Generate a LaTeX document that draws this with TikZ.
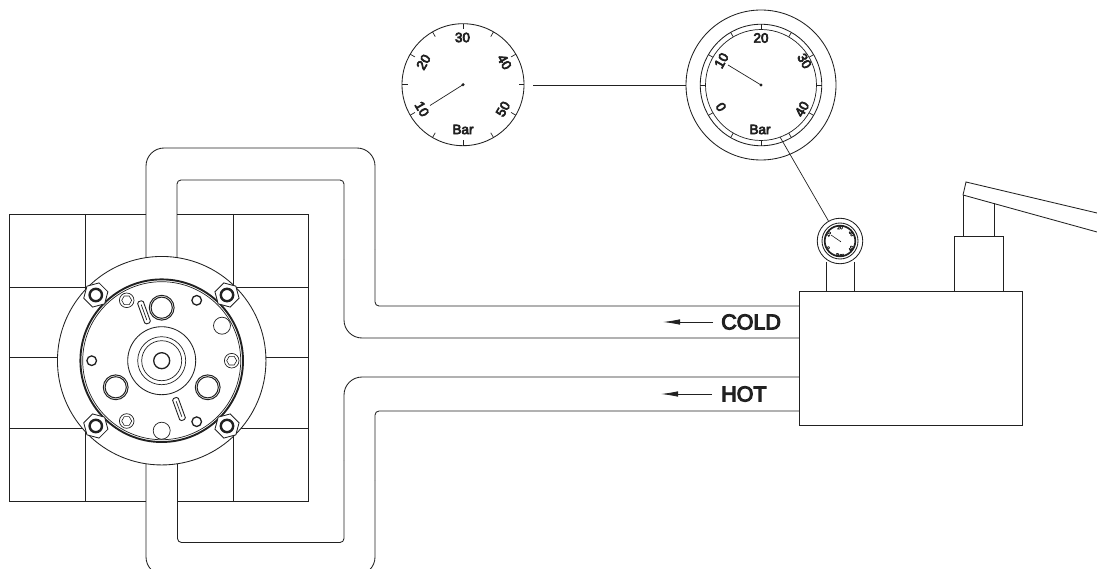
\documentclass[tikz,border=0pt]{standalone}
\usepackage{fontspec}
\setmainfont{Liberation Sans}
\newfontfamily\lblfont[FakeBold=5]{Liberation Sans}
\usetikzlibrary{arrows.meta,shapes.geometric}
\definecolor{ink}{gray}{0.13}
\tikzset{
  ln/.style={draw=ink,line width=0.85pt},
  thin ln/.style={draw=ink,line width=0.7pt},
  heavy/.style={draw=ink,line width=1.9pt},
  face/.style={circle,draw=ink,line width=0.85pt,fill=white,inner sep=0pt},
  lbl/.style={font=\lblfont\fontsize{13.5}{13.5}\selectfont,inner sep=0pt,text=ink},
  tiny lbl/.style={font=\lblfont\fontsize{5}{5}\selectfont,inner sep=0pt,text=ink},
  flow/.style={font=\lblfont\fontsize{21.5}{21.5}\selectfont,inner sep=0pt,anchor=west,text=ink},
  flowarrow/.style={draw=ink,line width=0.8pt,-{Latex[length=17pt,width=5.5pt]}},
  nuthex/.style={regular polygon,regular polygon sides=6,draw=ink,line width=0.85pt,fill=white,minimum size=25pt,inner sep=0pt},
  plughex/.style={regular polygon,regular polygon sides=6,draw=ink,line width=0.6pt,minimum size=10pt,inner sep=0pt},
  slot/.style={rectangle,rounded corners=1.5pt,draw=ink,line width=0.9pt,fill=white,minimum width=6pt,minimum height=23.5pt,inner sep=0pt,rotate=20},
}
\begin{document}
\begin{tikzpicture}[x=1pt,y=-1pt]
\useasboundingbox (0,0) rectangle (1097,569);
\clip (0,0) rectangle (1097,569);
% grid
\draw[ln] (146,214) -- (9,214) -- (9,501) -- (146,501);
\draw[ln] (177,214) -- (308,214) -- (308,501) -- (177,501);
\draw[ln] (85,214) -- (85,501);
\draw[ln] (233,214) -- (233,501);
\draw[ln] (9,287) -- (308,287);
\draw[ln] (9,357.5) -- (308,357.5);
\draw[ln] (9,428) -- (308,428);
% pipes
\draw[ln,rounded corners=18pt] (146,300) -- (146,148) -- (375,148) -- (375,250);
\draw[ln,rounded corners=4pt] (375,250) -- (375,306) -- (799,306);
\draw[ln,rounded corners=4pt] (177,300) -- (177,180) -- (344,180) -- (344,260);
\draw[ln,rounded corners=18pt] (344,260) -- (344,338) -- (799,338);
\draw[ln,rounded corners=18pt] (799,377) -- (344,377) -- (344,460);
\draw[ln,rounded corners=4pt] (344,460) -- (344,542.5) -- (177.5,542.5) -- (177.5,420);
\draw[ln,rounded corners=4pt] (799,411) -- (375,411) -- (375,480);
\draw[ln,rounded corners=18pt] (375,480) -- (375,575) -- (146,575) -- (146,420);
% compressor body
\coordinate (hub) at (161.7,360.7);
\node[face,minimum size=208.5pt] (disk) at (hub) {};
\draw[heavy] (hub) circle[radius=81.3pt];
\draw[thin ln] (hub) circle[radius=79pt];
\node[face,minimum size=68pt] (boss) at (hub) {};
\draw[thin ln] (hub) circle[radius=24pt];
\draw[thin ln] (hub) circle[radius=20pt];
\draw[draw=ink,line width=1.3pt] (hub) circle[radius=8pt];
\foreach \p/\r in {(95.8,295)/15,(227,295)/-15,(95.8,426)/-15,(227,426)/15}{
  \node[nuthex,rotate=\r] at \p {};
  \draw[draw=ink,line width=2.4pt] \p circle[radius=6.2pt];
}
\foreach \p in {(196.7,300.3),(91.7,360.7),(196.7,421.7)}{
  \draw[draw=ink,line width=1.3pt] \p circle[radius=4.8pt];
}
\foreach \p in {(126.7,300.3),(231.7,360.7),(126.7,421)}{
  \draw[thin ln] \p circle[radius=7.3pt];
  \node[plughex] at \p {};
}
\foreach \p in {(161.7,307.7),(115.7,387.3),(207.7,387.3)}{
  \draw[draw=ink,line width=1pt] \p circle[radius=12.4pt];
  \draw[draw=ink,line width=1pt] \p circle[radius=10.6pt];
}
\foreach \p in {(222,325.7),(161.7,430.7)}{
  \draw[thin ln] \p circle[radius=8.5pt];
}
\node[slot] (slotA) at (144,312.3) {};
\node[slot] (slotB) at (179,409) {};
\draw[thin ln] (141.2,304.6) -- (146.8,320);
\draw[thin ln] (176.2,401.3) -- (181.8,416.7);
% left gauge
\node[face,minimum size=122pt] (gaugeA) at (463,84.7) {};
\foreach \a in {0,30,...,330}{
  \draw[thin ln] ([shift={(\a:61pt)}]gaugeA.center) -- ([shift={(\a:55.5pt)}]gaugeA.center);
}
\node[lbl] at (462.5,37.5) {30};
\node[lbl,rotate=-60] at (504.5,62) {40};
\node[lbl,rotate=60] at (503,109) {50};
\node[lbl] at (463,129.5) {Bar};
\node[lbl,rotate=-60] at (422,109) {10};
\node[lbl,rotate=60] at (423.5,62) {20};
\coordinate (needleA) at (430,105.5);
\draw[thin ln] (gaugeA.center) -- (needleA);
\fill[ink] (gaugeA.center) circle[radius=1.7pt];
% right gauge
\node[face,minimum size=150pt] (gaugeB) at (761,85) {};
\node[face,minimum size=121.5pt] (gaugeBb) at (761,85) {};
\foreach \a in {0,30,...,330}{
  \draw[thin ln] ([shift={(\a:60.7pt)}]gaugeB.center) -- ([shift={(\a:55.5pt)}]gaugeB.center);
}
\draw[thin ln] (gaugeB.center) circle[radius=55.5pt];
\node[lbl] at (761,38) {20};
\node[lbl,rotate=-60] at (804.5,61) {30};
\node[lbl,rotate=60] at (802,109) {40};
\node[lbl] at (760,129.5) {Bar};
\node[lbl,rotate=-60] at (721,107) {0};
\node[lbl,rotate=60] at (721.5,60.5) {10};
\coordinate (needleB) at (728,65);
\draw[thin ln] (gaugeB.center) -- (needleB);
\fill[ink] (gaugeB.center) circle[radius=1.7pt];
% link between gauges
\coordinate (linkA) at (533,85);
\draw[ln] (linkA) -- (gaugeB.west);
% stand
\node[draw=ink,line width=0.85pt,minimum width=223pt,minimum height=134pt,inner sep=0pt,anchor=north west] (tank) at (799,291) {};
% small gauge
\draw[ln] (826,262) -- (826,291);
\draw[ln] (854,262) -- (854,291);
\node[face,minimum size=45.5pt] (gaugeC) at (840,241) {};
\coordinate (gaugeBedge) at (780,137);
\draw[thin ln] (gaugeBedge) -- (gaugeC);
\draw[ln] (840,241) circle[radius=18pt];
\draw[draw=ink,line width=1.7pt] (840,241) circle[radius=15.3pt];
\node[tiny lbl] at (840,227.5) {20};
\node[tiny lbl,rotate=-60] at (851.5,233.5) {30};
\node[tiny lbl,rotate=60] at (851,248.5) {40};
\node[tiny lbl] at (840,255) {Bar};
\node[tiny lbl,rotate=-60] at (828,248) {0};
\node[tiny lbl,rotate=60] at (828.5,234) {10};
\coordinate (needleC) at (831,235);
\draw[line width=0.6pt,draw=ink] (840.5,241.5) -- (needleC);
\fill[ink] (840.5,241.5) circle[radius=0.7pt];
% pump
\node[draw=ink,line width=0.85pt,minimum width=49pt,minimum height=55pt,inner sep=0pt,anchor=north west] (pump) at (954,236) {};
\draw[ln] (963,236) -- (963,195);
\draw[ln] (994,236) -- (994,203.5);
\draw[ln] (1097,232) -- (963,195) -- (966,182) -- (1097,213);
% flow labels
\node[flow] (cold) at (721,322) {COLD};
\node[flow] (hot) at (721,394) {HOT};
\coordinate (coldTip) at (663,322);
\coordinate (hotTip) at (661,394);
\draw[flowarrow] ([xshift=-8pt]cold.west) -- (coldTip);
\draw[flowarrow] ([xshift=-9pt]hot.west) -- (hotTip);
\end{tikzpicture}
\end{document}
